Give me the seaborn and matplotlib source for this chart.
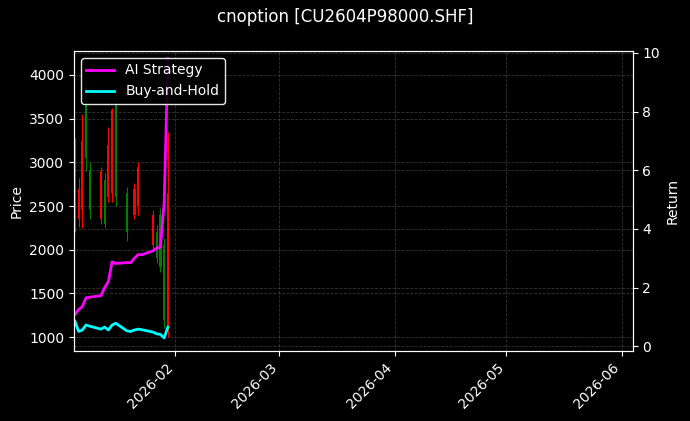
import numpy as np
import pandas as pd
import matplotlib
matplotlib.use("Agg")
import matplotlib.pyplot as plt
import matplotlib.dates as mdates
import seaborn as sns

# Daily strategy curves (weekdays)
line_dates = pd.bdate_range("2026-01-05", "2026-01-30")
ai_ret = [1.08, 1.25, 1.35, 1.65, 1.67, 1.72, 2.0, 2.2, 2.88, 2.82,
          2.85, 2.85, 3.0, 3.12, 3.12, 3.25, 3.35, 3.38, 4.9, 9.8]
bh_ret = [0.85, 0.5, 0.55, 0.72, 0.68, 0.58, 0.65, 0.55, 0.72, 0.78,
          0.52, 0.5, 0.55, 0.58, 0.56, 0.48, 0.42, 0.4, 0.28, 0.65]

# Option candles
candle_dates = pd.to_datetime([
    "2026-01-05", "2026-01-06", "2026-01-07", "2026-01-08", "2026-01-09",
    "2026-01-12", "2026-01-13", "2026-01-14", "2026-01-15", "2026-01-16",
    "2026-01-19", "2026-01-21", "2026-01-22", "2026-01-26", "2026-01-27",
    "2026-01-28", "2026-01-29", "2026-01-30"])
opens = [2400, 2700, 3250, 3050, 2450, 2900, 2300, 3200, 3600, 2600,
         2200, 2700, 2950, 2400, 1900, 1800, 1200, 2650]
highs = [3280, 2820, 3550, 3980, 3000, 2950, 2880, 3400, 3620, 3800,
         2720, 2760, 3000, 2450, 2280, 2480, 2130, 3350]
lows = [2200, 2260, 2250, 2900, 2350, 2300, 2250, 2550, 2550, 2500,
        2100, 2350, 2400, 2000, 1850, 1740, 1100, 1000]
closes = [3100, 2350, 2450, 3850, 2900, 2350, 2800, 2600, 2650, 3700,
          2650, 2400, 2500, 2050, 2200, 2400, 2050, 1100]

plt.style.use("dark_background")
plt.rcParams["font.family"] = ["DejaVu Sans"]

fig, ax = plt.subplots(figsize=(6.9, 4.21), dpi=100)
fig.subplots_adjust(left=0.107, right=0.917, top=0.879, bottom=0.166)

cdf = pd.DataFrame({"date": candle_dates, "open": opens, "high": highs,
                    "low": lows, "close": closes})
cols = np.where(cdf["close"] >= cdf["open"], "green", "red")
ax.vlines(cdf["date"], cdf["low"], cdf["high"], colors=cols, linewidth=0.8)
ax.bar(cdf["date"], (cdf["close"] - cdf["open"]).abs(),
       bottom=np.minimum(cdf["open"], cdf["close"]), width=0.6, color=cols,
       linewidth=0)
ax.set_ylabel("Price")
ax.set_ylim(840, 4275)
ax.set_xlim(pd.Timestamp("2026-01-04 17:00"), pd.Timestamp("2026-06-04"))
ax.grid(True, linestyle="--", color="gray", alpha=0.4, linewidth=0.6)

ax2 = ax.twinx()
ldf = pd.DataFrame({"date": line_dates, "AI Strategy": ai_ret, "Buy-and-Hold": bh_ret})
sns.lineplot(data=ldf, x="date", y="AI Strategy", ax=ax2, color="magenta",
             linewidth=2, label="AI Strategy")
sns.lineplot(data=ldf, x="date", y="Buy-and-Hold", ax=ax2, color="cyan",
             linewidth=2, label="Buy-and-Hold")
ax2.set_ylim(-0.17, 10.07)
ax2.set_yticks([0, 2, 4, 6, 8, 10])
ax2.set_ylabel("Return")
ax2.set_xlabel("")
ax2.legend(loc="upper left", facecolor="black", edgecolor="white", framealpha=0.9)
ax2.grid(True, linestyle="--", color="gray", alpha=0.4, linewidth=0.6)

ax.xaxis.set_major_locator(mdates.MonthLocator())
ax.xaxis.set_major_formatter(mdates.DateFormatter("%Y-%m"))
for lab in ax.get_xticklabels():
    lab.set_rotation(45)
    lab.set_ha("right")

fig.suptitle("cnoption [CU2604P98000.SHF]", fontsize=12)
fig.savefig("out.png", dpi=100, facecolor="black")
